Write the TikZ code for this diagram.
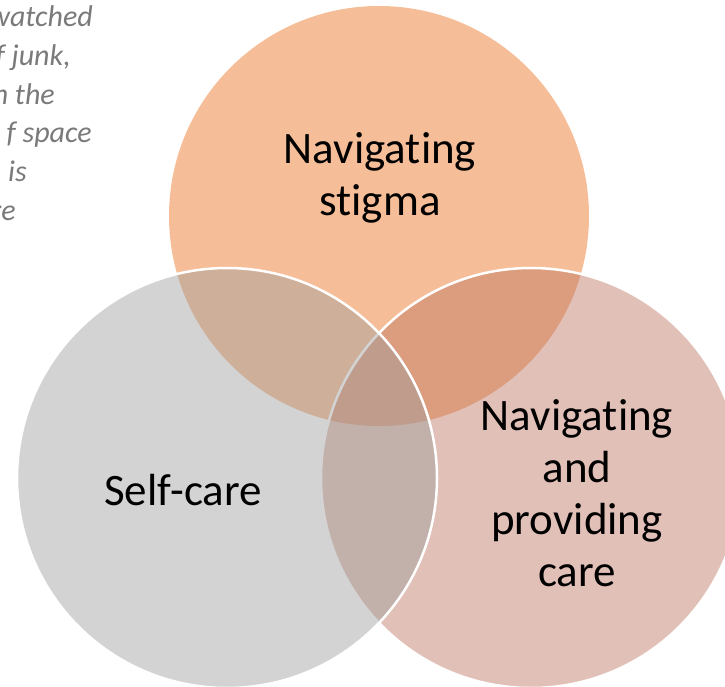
\documentclass[tikz,border=0pt]{standalone}
\usepackage{fontspec}
\setmainfont{Carlito}[Ligatures=NoCommon]
\definecolor{stigmaorange}{RGB}{246,190,152}
\definecolor{carebrown}{RGB}{189,115,95}
\definecolor{selfgray}{RGB}{158,158,158}
\definecolor{notegray}{RGB}{122,122,122}

\begin{document}
\begin{tikzpicture}
    \tikzset{x=1pt, y=-1pt}
    \tikzstyle{set}=[draw=white, line width=2.5pt, fill opacity=0.45]
    \tikzstyle{label}=[align=center, text=black, font=\fontsize{45}{52}\selectfont]
    \tikzstyle{note}=[anchor=base east, inner sep=0pt, text=notegray, font=\fontsize{30}{38}\selectfont\itshape]

    \useasboundingbox (0,0) rectangle (725,687);

    % the three sets
    \fill[stigmaorange]           (379,216) circle (210pt);
    \draw[set, fill=carebrown]    (531,478) circle (210pt);
    \draw[set, fill=selfgray]     (227,478) circle (210pt);

    % cut-off notes, top left
    \draw (93,27)   node[note]  (n1)    {watched};
    \draw (71,66)   node[note]  (n2)    {f junk,};
    \draw (55,105)  node[note]  (n3)    {n the};
    \draw (92,143)  node[note]  (n4)    {f space};
    \draw (27,182)  node[note]  (n5)    {is};
    \draw (16,220)  node[note]  (n6)    {re};

    % set labels
    \draw (380,178) node[label] (stigma)    {Navigating\\stigma};
    \draw (183,505) node[label, anchor=base] (selfcare) {Self-care};
    \draw (577,493) node[label] (care)      {Navigating\\and\\providing\\care};
\end{tikzpicture}
\end{document}
